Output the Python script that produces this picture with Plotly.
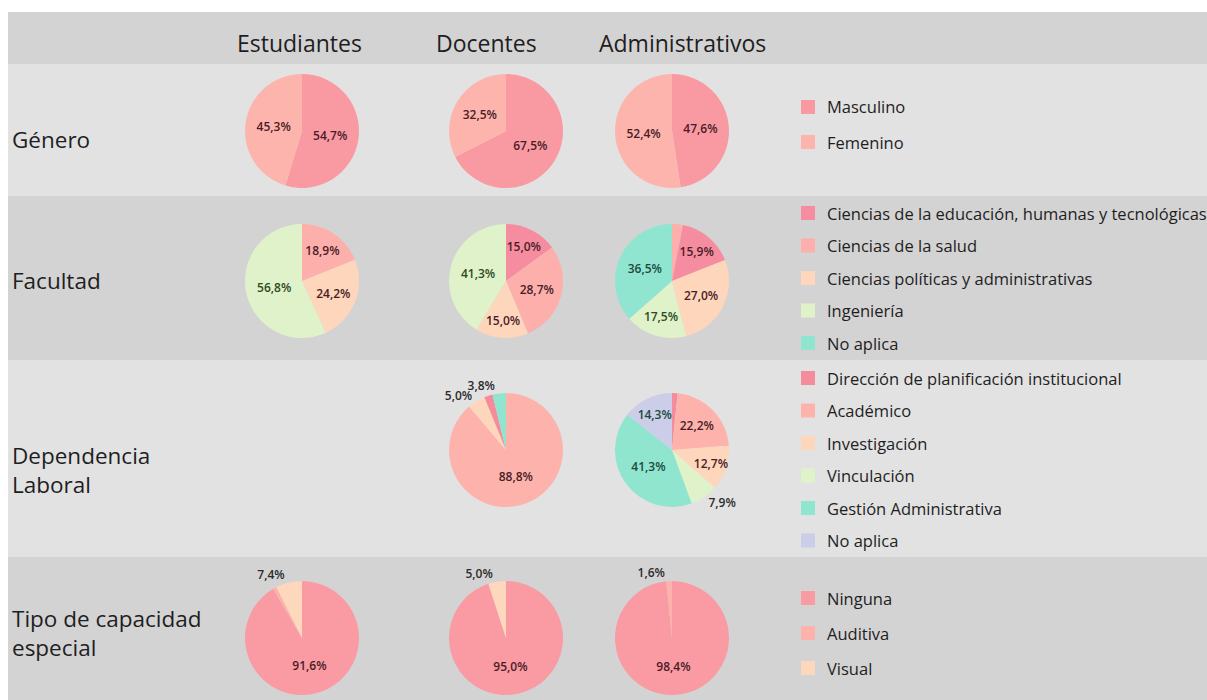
import plotly.graph_objects as go

W, H = 1207, 700

columns = ["Estudiantes", "Docentes", "Administrativos"]
row_titles = ["Género", "Facultad", "Dependencia<br>Laboral", "Tipo de capacidad<br>especial"]

genero_legend = ["Masculino", "Femenino"]
facultad_legend = ["Ciencias de la educación, humanas y tecnológicas", "Ciencias de la salud",
                   "Ciencias políticas y administrativas", "Ingeniería", "No aplica"]
dependencia_legend = ["Dirección de planificación institucional", "Académico", "Investigación",
                      "Vinculación", "Gestión Administrativa", "No aplica"]
capacidad_legend = ["Ninguna", "Auditiva", "Visual"]

# slices listed clockwise from 12 o'clock, as drawn
genero_est = (["Masculino", "Femenino"], [54.7, 45.3])
genero_doc = (["Masculino", "Femenino"], [67.5, 32.5])
genero_adm = (["Masculino", "Femenino"], [47.6, 52.4])

facultad_est = (["Ciencias de la salud", "Ciencias políticas y administrativas", "Ingeniería"],
                [18.9, 24.2, 56.8])
facultad_doc = (["Ciencias de la educación, humanas y tecnológicas", "Ciencias de la salud",
                 "Ciencias políticas y administrativas", "Ingeniería"],
                [15.0, 28.7, 15.0, 41.3])
facultad_adm = (["Ciencias de la salud", "Ciencias de la educación, humanas y tecnológicas",
                 "Ciencias políticas y administrativas", "Ingeniería", "No aplica"],
                [3.1, 15.9, 27.0, 17.5, 36.5])

dependencia_doc = (["Académico", "Investigación", "Dirección de planificación institucional",
                    "Gestión Administrativa"],
                   [88.8, 5.0, 2.4, 3.8])
dependencia_adm = (["Dirección de planificación institucional", "Académico", "Investigación",
                    "Vinculación", "Gestión Administrativa", "No aplica"],
                   [1.6, 22.2, 12.7, 7.9, 41.3, 14.3])

capacidad_est = (["Ninguna", "Auditiva", "Visual"], [91.6, 1.0, 7.4])
capacidad_doc = (["Ninguna", "Visual"], [95.0, 5.0])
capacidad_adm = (["Ninguna", "Auditiva"], [98.4, 1.6])

# slivers drawn without a percentage
unlabeled = [("facultad_adm", "Ciencias de la salud"),
             ("dependencia_doc", "Dirección de planificación institucional"),
             ("dependencia_adm", "Dirección de planificación institucional"),
             ("capacidad_est", "Auditiva")]
# labels written from a second, transparent copy of the pie (keeps plotly from shifting them)
overlay = [("dependencia_doc", "Gestión Administrativa")]

colors = {
    "Masculino": "#f99aa3", "Femenino": "#fdb4ad",
    "Ciencias de la educación, humanas y tecnológicas": "#f58ca0",
    "Ciencias de la salud": "#fcafab",
    "Ciencias políticas y administrativas": "#fdd6bc",
    "Ingeniería": "#e0f2c9", "No aplica": "#8fe5d0",
    "Dirección de planificación institucional": "#f58c9c",
    "Académico": "#fdb3ac", "Investigación": "#fdd6bc", "Vinculación": "#e0f2c9",
    "Gestión Administrativa": "#90e5cf",
    "Ninguna": "#fa9aa3", "Auditiva": "#fdb3ac", "Visual": "#fdd8bd",
}
nap_dep = "#cbcde9"
text_dark = {"Ingeniería": "#2e4a25", "Vinculación": "#2e4a25", "No aplica": "#1d4a3e",
             "Gestión Administrativa": "#1d4a3e"}

# layout, in window pixels
col_x = [302, 506, 672]
row_y = [131, 281, 450, 638]
R = 57

pies = [
    ("genero_est", genero_est, 0, 0), ("genero_doc", genero_doc, 0, 1), ("genero_adm", genero_adm, 0, 2),
    ("facultad_est", facultad_est, 1, 0), ("facultad_doc", facultad_doc, 1, 1),
    ("facultad_adm", facultad_adm, 1, 2),
    ("dependencia_doc", dependencia_doc, 2, 1), ("dependencia_adm", dependencia_adm, 2, 2),
    ("capacidad_est", capacidad_est, 3, 0), ("capacidad_doc", capacidad_doc, 3, 1),
    ("capacidad_adm", capacidad_adm, 3, 2),
]


def px(x):
    return x / W


def py(y):
    return 1 - y / H


fig = go.Figure()

for name, (labels, values), r, c in pies:
    cx, cy = col_x[c], row_y[r]
    dom = dict(x=[px(cx - R), px(cx + R)], y=[py(cy + R), py(cy - R)])
    slice_colors = [nap_dep if (lab == "No aplica" and r == 2) else colors[lab] for lab in labels]
    for layer in (0, 1):
        templates, positions, tcolors = [], [], []
        for lab, v in zip(labels, values):
            shown = (name, lab) not in unlabeled and (((name, lab) in overlay) == (layer == 1))
            templates.append("%{value:.1f}%" if shown else "")
            positions.append("outside" if v < 10 else "inside")
            tcolors.append(text_dark.get(lab, "#4a1d26") if v >= 10 else "#2b2b2b")
        if layer == 1 and all(t == "" for t in templates):
            continue
        fig.add_trace(go.Pie(
            labels=labels, values=values, sort=False, direction="clockwise", rotation=0,
            marker=dict(colors=slice_colors if layer == 0 else ["rgba(0,0,0,0)"] * len(labels),
                        line=dict(width=0)),
            texttemplate=templates, textposition=positions,
            insidetextorientation="horizontal",
            textfont=dict(size=12, color=tcolors, family="Open Sans", weight=600),
            showlegend=False, hoverinfo="label+percent" if layer == 0 else "skip",
            domain=dom,
        ))

# background bands
bands = [(12, 64, "#d4d3d4"), (64, 196, "#e2e2e2"), (196, 360, "#d4d3d4"),
         (360, 557, "#e2e2e2"), (557, 700, "#d4d3d4")]
for y0, y1, col in bands:
    fig.add_shape(type="rect", xref="paper", yref="paper", x0=px(8), x1=1, y0=py(y1), y1=py(y0),
                  fillcolor=col, line=dict(width=0), layer="below")

# column headers
header_x = [299, 486, 682]
for name, x in zip(columns, header_x):
    fig.add_annotation(x=px(x), y=py(43), xref="paper", yref="paper", text=name, showarrow=False,
                       xanchor="center", yanchor="middle",
                       font=dict(size=23, color="#1e1e1e", family="Open Sans"))

# row titles
title_y = [139, 280, 470, 633]
for name, y in zip(row_titles, title_y):
    fig.add_annotation(x=px(10), y=py(y), xref="paper", yref="paper", text=name, showarrow=False,
                       xanchor="left", yanchor="middle", align="left",
                       font=dict(size=22.5, color="#1e1e1e", family="Open Sans"))

# legends
legends = [(genero_legend, 107, 35), (facultad_legend, 213, 32.5),
           (dependencia_legend, 378, 32.5), (capacidad_legend, 598, 35)]
for li, (items, top, step) in enumerate(legends):
    for i, lab in enumerate(items):
        y = top + i * step
        col = nap_dep if (li == 2 and lab == "No aplica") else colors[lab]
        fig.add_shape(type="rect", xref="paper", yref="paper", x0=px(801), x1=px(815),
                      y0=py(y + 7), y1=py(y - 7), fillcolor=col, line=dict(width=0))
        fig.add_annotation(x=px(825), y=py(y), xref="paper", yref="paper", text=lab, showarrow=False,
                           xanchor="left", yanchor="middle",
                           font=dict(size=16.5, color="#1e1e1e", family="Open Sans"))

fig.update_layout(
    width=W, height=H, autosize=False,
    margin=dict(l=0, r=0, t=0, b=0),
    paper_bgcolor="white", plot_bgcolor="white",
    separators=",.",
    uniformtext=dict(minsize=12, mode="show"),
)

# drop the page's default body margin so the 1207x700 figure fills the window
fig.write_html("out.html", config={"displayModeBar": False},
               post_script="document.body.style.margin = '0';")
